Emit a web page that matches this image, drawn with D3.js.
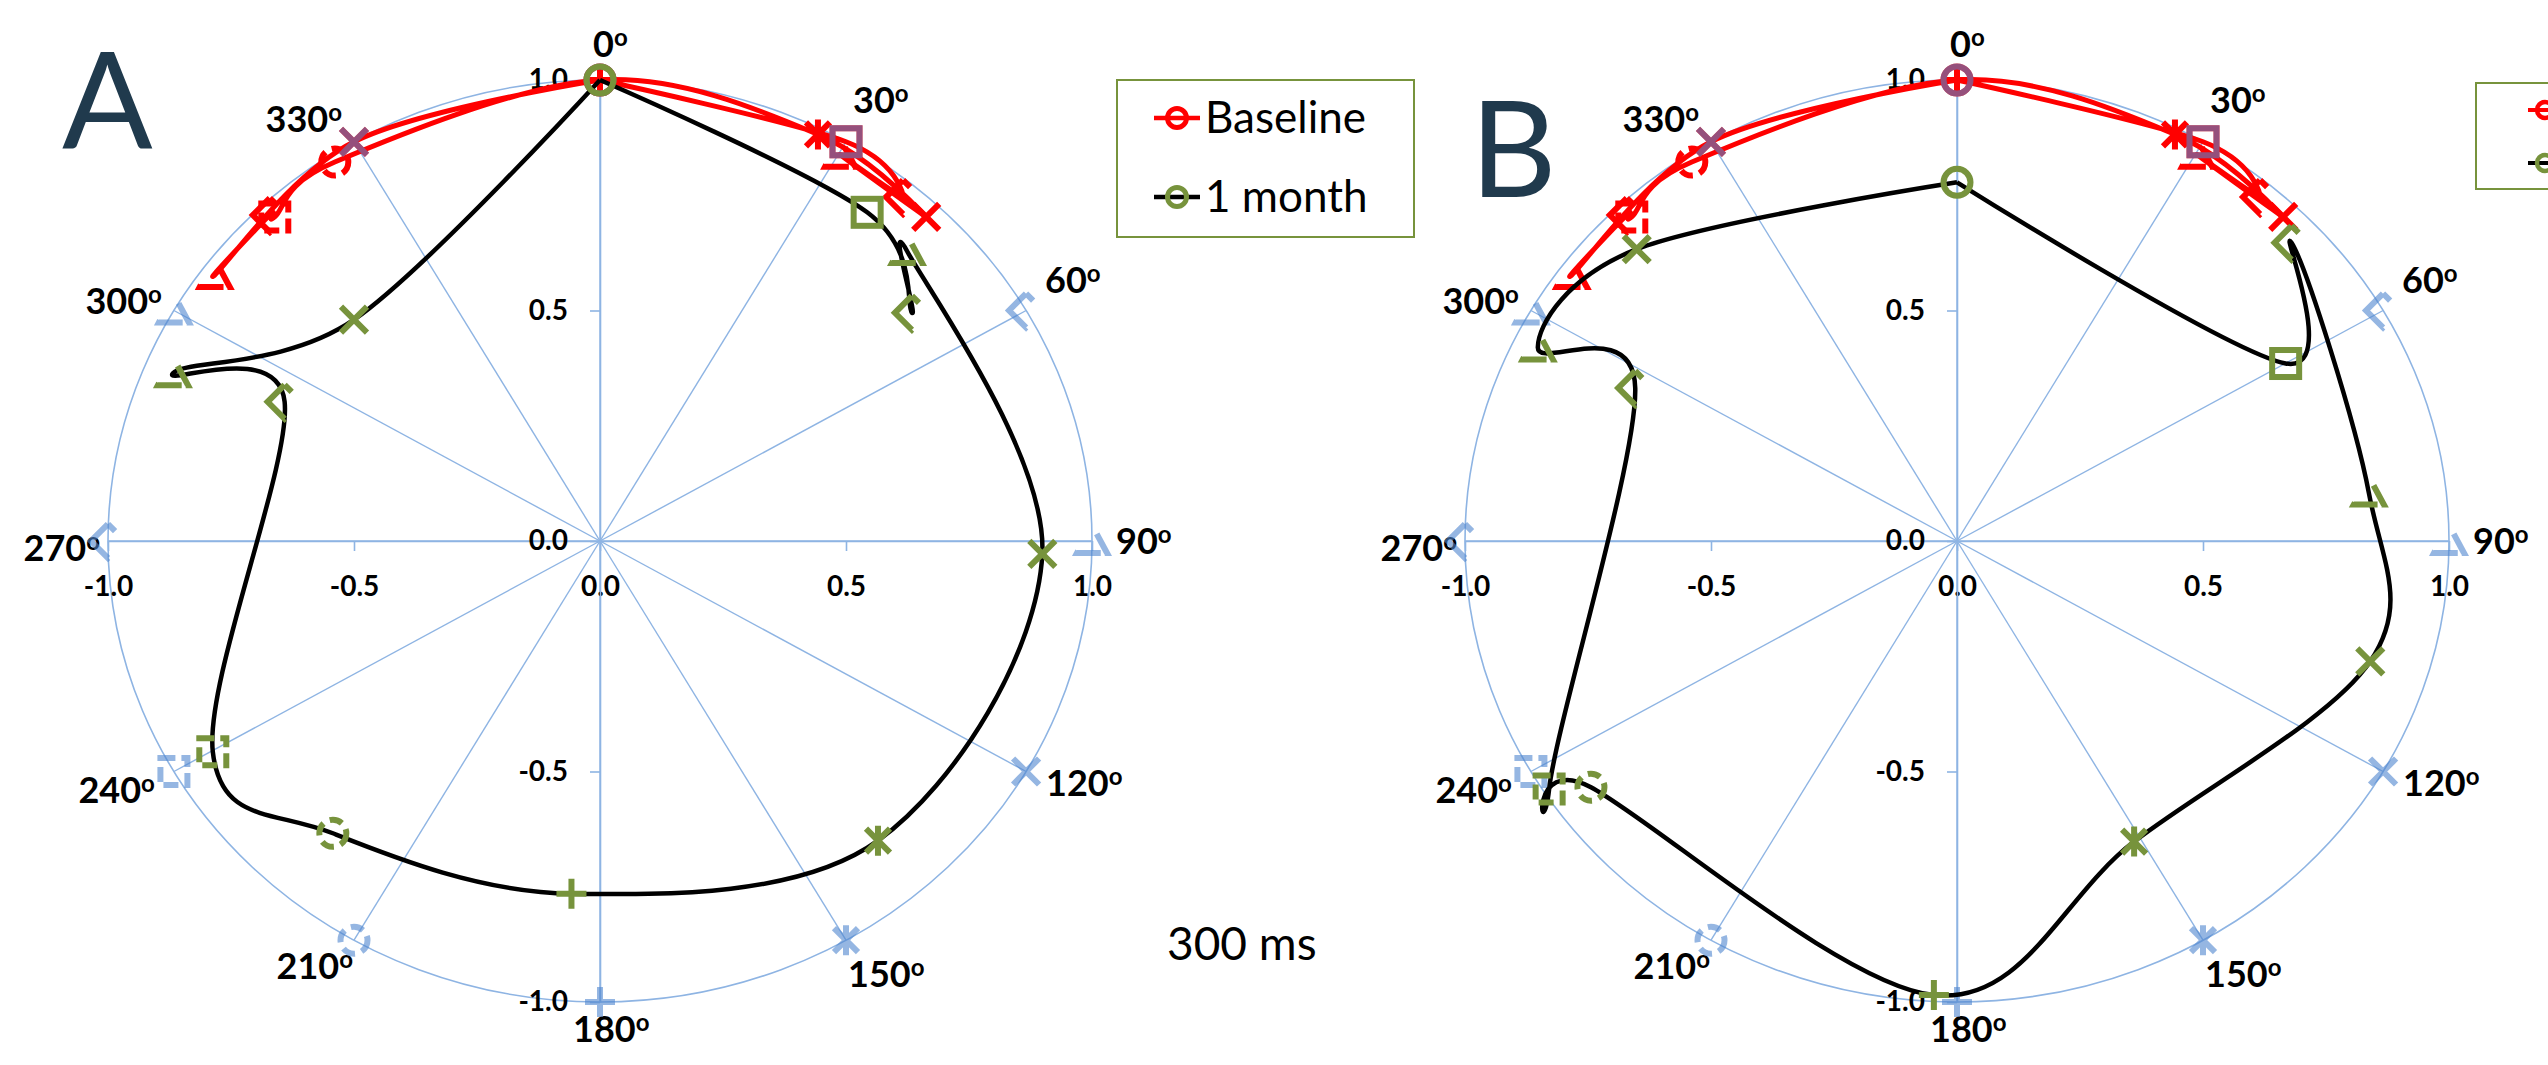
<!DOCTYPE html>
<html>
<head>
<meta charset="utf-8">
<script src="https://cdn.jsdelivr.net/npm/d3@7"></script>
<style>
  html, body { margin: 0; padding: 0; background: #fff; }
  svg { display: block; font-family: Lato, "Open Sans", sans-serif; }
</style>
</head>
<body>
<svg id="chart"></svg>
<script>
// stimulus directions, degrees clockwise from top
const angles = [0, 30, 60, 90, 120, 150, 180, 210, 240, 270, 300, 330];
const ticks = [-1.0, -0.5, 0.0, 0.5, 1.0];

// perceived positions (chart units), one point per stimulus, last point closes back to 0
const baselineX = [0, 0.500, 0.616, 0.488, 0.663, 0.443, 0, -0.539, -0.661, -0.671, -0.783, -0.500, 0];
const baselineY = [1, 0.866, 0.746, 0.838, 0.703, 0.882, 1, 0.822, 0.703, 0.707, 0.577, 0.866, 1];

const monthAX = [0, 0.543, 0.634, 0.624, 0.899, 0.565, -0.058, -0.543, -0.787, -0.641, -0.868, -0.500, 0];
const monthAY = [1, 0.713, 0.495, 0.629, -0.028, -0.650, -0.765, -0.634, -0.457, 0.302, 0.364, 0.480, 1];

const monthBX = [0, 0.668, 0.680, 0.837, 0.840, 0.360, -0.047, -0.744, -0.829, -0.654, -0.852, -0.651, 0];
const monthBY = [0.778, 0.385, 0.647, 0.105, -0.261, -0.652, -0.985, -0.534, -0.538, 0.332, 0.420, 0.633, 0.778];

// reference (true stimulus) radius
const refR = [1, 1, 1, 1, 1, 1, 1, 1, 1, 1, 1, 1];

const seriesNames = ["Baseline", "1 month"];

// marker per stimulus point
const markerShape = ["circle", "square", "diamond", "triangle", "x", "star", "plus", "circle", "square", "diamond", "triangle", "x"];
const markerDashed = [false, false, true, true, false, false, false, true, true, true, true, false];

// angle label placement around the ring
const labelDx = [-7, 7, 19, 24, 20, 2, -27, -1, -19, -8, -12, -12];
const labelDy = [-23, -29, -18, 13, 24, 47, 40, 39, 31, 20, 3, -10];
const labelAnchor = ["start", "start", "start", "start", "start", "start", "start", "end", "end", "end", "end", "end"];

const W = 2548, H = 1065;
const CY = 541, RX = 492, RY = 461;
const gridColor = "#8EB4E3";
const red = "#FF0000", green = "#77933C", refColor = "#4F86CF";

const svg = d3.select("#chart").attr("width", W).attr("height", H);
svg.append("rect").attr("width", W).attr("height", H).attr("fill", "#fff");

const rad = a => a * Math.PI / 180;

// dash patterns that mimic the broken outlines of the dashed markers
const dashFor = {circle: "13,7", square: "15,6", diamond: "10,38,48", triangle: "0,10,24,4,26,40"};

function marker(g, shape, dashed, color, px, py, opacity) {
    const m = g.append("g")
        .attr("transform", `translate(${px},${py})`)
        .attr("fill", "none")
        .attr("stroke", color)
        .attr("stroke-width", 6)
        .attr("opacity", opacity);
    if (dashed) m.attr("stroke-dasharray", dashFor[shape]);
    if (shape === "circle") m.append("circle").attr("r", 13.5);
    if (shape === "square") m.append("rect").attr("x", -13.5).attr("y", -13.5).attr("width", 27).attr("height", 27);
    if (shape === "diamond") m.append("path").attr("d", "M0,-17L17,0L0,17L-17,0Z");
    if (shape === "triangle") m.append("path").attr("d", "M0,-16L15,12L-15,12Z");
    if (shape === "x") m.append("path").attr("d", "M-13,-13L13,13M-13,13L13,-13");
    if (shape === "star") m.append("path").attr("d", "M-12,-12L12,12M-12,12L12,-12M0,-15L0,15");
    if (shape === "plus") m.append("path").attr("d", "M-15,0L15,0M0,-15L0,15");
}

function panel(cx, letter, letterX, letterBase, monthX, monthY) {
    const x = d3.scaleLinear().domain([-1, 1]).range([cx - RX, cx + RX]);
    const y = d3.scaleLinear().domain([-1, 1]).range([CY + RY, CY - RY]);
    const g = svg.append("g");

    // outer ring
    g.append("ellipse")
        .attr("cx", x(0)).attr("cy", y(0))
        .attr("rx", x(1) - x(0)).attr("ry", y(0) - y(1))
        .attr("fill", "none").attr("stroke", gridColor).attr("stroke-width", 1.6);

    // spokes
    g.selectAll(".spoke").data(angles).enter().append("line")
        .attr("x1", x(0)).attr("y1", y(0))
        .attr("x2", a => x(Math.sin(rad(a)))).attr("y2", a => y(Math.cos(rad(a))))
        .attr("stroke", gridColor).attr("stroke-width", 1.4);

    // axes
    const fmt = d => d.toFixed(1);
    const xAxis = g.append("g").attr("transform", `translate(0,${y(0)})`)
        .call(d3.axisBottom(x).tickValues(ticks).tickSize(10).tickSizeOuter(0).tickPadding(25).tickFormat(fmt));
    const yAxis = g.append("g").attr("transform", `translate(${x(0)},0)`)
        .call(d3.axisLeft(y).tickValues(ticks).tickSize(10).tickSizeOuter(0).tickPadding(22).tickFormat(fmt));
    [xAxis, yAxis].forEach(ax => {
        ax.select(".domain").attr("stroke", gridColor).attr("stroke-width", 1.6);
        ax.selectAll(".tick line").attr("stroke", gridColor).attr("stroke-width", 1.6);
        ax.selectAll(".tick text").attr("fill", "#000").attr("font-size", 28)
            .attr("font-weight", "bold").attr("font-family", "Lato, sans-serif");
    });

    // angle labels
    const lab = g.selectAll(".ang").data(angles).enter().append("text")
        .attr("x", (a, i) => x(Math.sin(rad(a))) + labelDx[i])
        .attr("y", (a, i) => y(Math.cos(rad(a))) + labelDy[i])
        .attr("text-anchor", (a, i) => labelAnchor[i])
        .attr("font-size", 36).attr("font-weight", "bold").attr("fill", "#000");
    lab.append("tspan").text(a => a);
    lab.append("tspan").attr("font-size", 24).attr("dy", -11).text("o");

    // panel letter
    g.append("text").attr("x", letterX).attr("y", letterBase)
        .attr("font-size", 134).attr("fill", "#203A4D").text(letter);

    const smooth = d3.line().x(d => x(d[0])).y(d => y(d[1])).curve(d3.curveCardinal.tension(0));

    // baseline series
    const base = baselineX.map((v, i) => [v, baselineY[i]]);
    g.append("path").attr("d", smooth(base)).attr("fill", "none")
        .attr("stroke", red).attr("stroke-width", 5);
    angles.forEach((a, i) => marker(g, markerShape[i], markerDashed[i], red, x(baselineX[i]), y(baselineY[i]), 1));

    // reference markers on the ring
    angles.forEach((a, i) => marker(g, markerShape[i], markerDashed[i], refColor,
        x(refR[i] * Math.sin(rad(a))), y(refR[i] * Math.cos(rad(a))), 0.6));

    // 1 month series
    const month = monthX.map((v, i) => [v, monthY[i]]);
    g.append("path").attr("d", smooth(month)).attr("fill", "none")
        .attr("stroke", "#000").attr("stroke-width", 4.5);
    angles.forEach((a, i) => marker(g, markerShape[i], markerDashed[i], green, x(monthX[i]), y(monthY[i]), 1));
}

panel(600, "A", 62, 148, monthAX, monthAY);
panel(1957, "B", 1470, 197, monthBX, monthBY);

// legends
function legend(bx, by, bw, bh, lx0, lx1, rowY, textX, fs, r, sw, withText) {
    const g = svg.append("g");
    g.append("rect").attr("x", bx).attr("y", by).attr("width", bw).attr("height", bh)
        .attr("fill", "#fff").attr("stroke", green).attr("stroke-width", 2);
    const lineCol = [red, "#000"], markCol = [red, green];
    seriesNames.forEach((name, i) => {
        g.append("line").attr("x1", lx0).attr("x2", lx1).attr("y1", rowY[i]).attr("y2", rowY[i])
            .attr("stroke", lineCol[i]).attr("stroke-width", sw);
        g.append("circle").attr("cx", (lx0 + lx1) / 2).attr("cy", rowY[i]).attr("r", r)
            .attr("fill", "none").attr("stroke", markCol[i]).attr("stroke-width", sw + 0.5);
        if (withText) {
            g.append("text").attr("x", textX).attr("y", rowY[i] + fs * 0.34)
                .attr("font-size", fs).attr("fill", "#000").text(name);
        }
    });
}
legend(1117, 80, 297, 157, 1154, 1200, [118, 197], 1205, 44, 9.5, 4.5, true);
// panel B legend runs off the right edge of the figure, only its key marks show
legend(2476, 83, 200, 106, 2528, 2562, [110, 163], 2568, 30, 8, 4, false);

svg.append("text").attr("x", 1167).attr("y", 960).attr("font-size", 46).attr("fill", "#000").text("300 ms");
</script>
</body>
</html>
